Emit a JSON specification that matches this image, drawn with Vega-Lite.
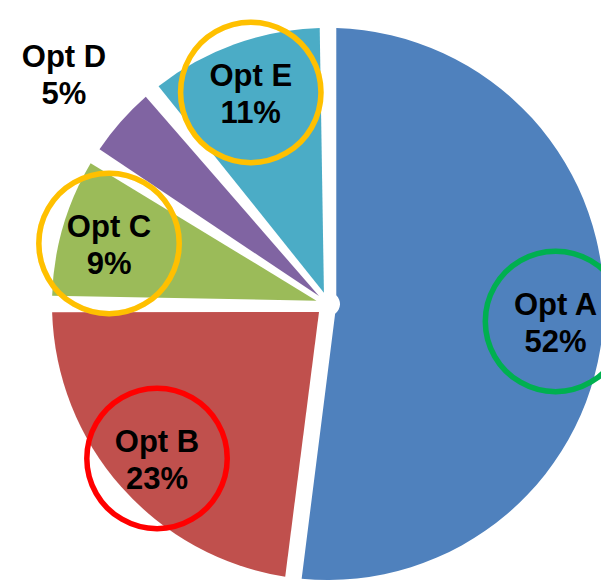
{
  "$schema": "https://vega.github.io/schema/vega-lite/v6.json",
  "width": 656,
  "height": 608,
  "autosize": {"type": "none"},
  "padding": 0,
  "background": "white",
  "config": {"view": {"stroke": null}},
  "data": {
    "values": [
      {"opt": "Opt A", "pct": 52},
      {"opt": "Opt B", "pct": 23},
      {"opt": "Opt C", "pct": 9},
      {"opt": "Opt D", "pct": 5},
      {"opt": "Opt E", "pct": 11}
    ]
  },
  "transform": [
    {"calculate": "datum.opt + '\\n' + datum.pct + '%'", "as": "label"}
  ],
  "encoding": {
    "theta": {"field": "pct", "type": "quantitative", "stack": true, "scale": {"domain": [0, 100]}},
    "order": {"field": "opt", "sort": "ascending"}
  },
  "layer": [
    {
      "mark": {"type": "arc", "outerRadius": 276, "innerRadius": 12, "padAngle": 0.06},
      "encoding": {
        "color": {
          "field": "opt", "type": "nominal", "legend": null,
          "scale": {"domain": ["Opt A", "Opt B", "Opt C", "Opt D", "Opt E"],
                    "range": ["#4F81BD", "#C0504D", "#9BBB59", "#8064A2", "#4BACC6"]}
        }
      }
    },
    {
      "mark": {"type": "text", "radius": 228, "font": "DejaVu Sans", "fontSize": 184, "dy": -4,
               "fillOpacity": 0, "strokeWidth": 5.5, "align": "center", "baseline": "middle"},
      "encoding": {
        "text": {"condition": {"test": "datum.opt !== 'Opt D'", "value": "●"}, "value": ""},
        "stroke": {
          "field": "opt", "type": "nominal", "legend": null,
          "scale": {"domain": ["Opt A", "Opt B", "Opt C", "Opt D", "Opt E"],
                    "range": ["#00B050", "#FF0000", "#FFC000", "#FFFFFF", "#FFC000"]}
        }
      }
    },
    {
      "mark": {"type": "text", "radius": 228, "font": "Liberation Sans", "fontWeight": "bold",
               "fontSize": 31, "lineHeight": 37, "lineBreak": "\n", "color": "black", "dy": -12,
               "align": "center", "baseline": "middle"},
      "encoding": {
        "text": {"condition": {"test": "datum.opt !== 'Opt D'", "field": "label"}, "value": ""}
      }
    },
    {
      "mark": {"type": "text", "radius": 352, "font": "Liberation Sans", "fontWeight": "bold",
               "fontSize": 31, "lineHeight": 37, "lineBreak": "\n", "color": "black", "dy": -13,
               "align": "center", "baseline": "middle"},
      "encoding": {
        "text": {"condition": {"test": "datum.opt === 'Opt D'", "field": "label"}, "value": ""}
      }
    }
  ]
}
